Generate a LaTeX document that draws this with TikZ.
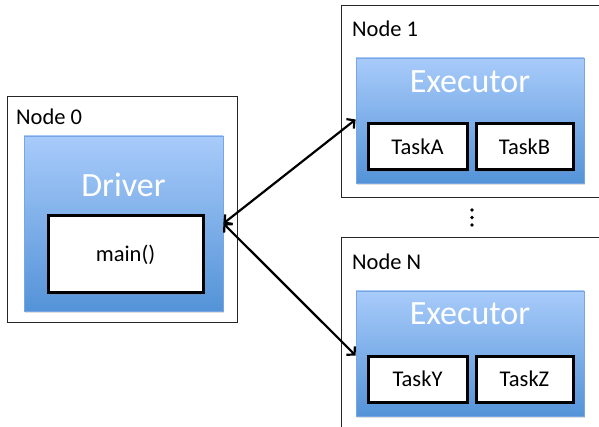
\documentclass[tikz,border=0pt]{standalone}
\usepackage{fontspec}
\setmainfont{Carlito}
\usetikzlibrary{arrows.meta,shadows}
\definecolor{blueTop}{RGB}{168,203,250}
\definecolor{blueBot}{RGB}{84,147,216}
\definecolor{blueEdge}{RGB}{120,166,226}
\tikzset{
  machine/.style={draw=black!85, line width=1pt, fill=white, inner sep=0pt, anchor=north west},
  proc/.style={draw=blueEdge, line width=0.8pt, top color=blueTop, bottom color=blueBot,
    inner sep=0pt, drop shadow={shadow xshift=0.6pt, shadow yshift=-2pt, opacity=0.25}},
  task/.style={draw=black, line width=3pt, fill=white, inner sep=0pt,
    font=\fontsize{22.5}{26}\selectfont,
    drop shadow={shadow xshift=0.8pt, shadow yshift=-1.6pt, opacity=0.3}},
  caption/.style={font=\fontsize{22.5}{26}\selectfont, anchor=west, inner sep=0pt},
  title/.style={font=\fontsize{34}{40}\selectfont, text=white, inner sep=0pt},
  link/.style={line width=2.2pt, {Straight Barb[length=5.5pt,width=12pt]}-{Straight Barb[length=5.5pt,width=12pt]}},
  ellipsisdot/.style={circle, fill=black, inner sep=0pt, minimum size=3.8pt}
}
\begin{document}
\begin{tikzpicture}[x=1pt,y=-1pt]
  \useasboundingbox (0,0) rectangle (599,427);
  \clip (0,0) rectangle (599,427);
  \fill[white] (0,0) rectangle (599,427);

  % machines
  \node[machine, minimum width=230pt, minimum height=226pt] (m0) at (7,96) {};
  \node[machine, minimum width=290pt, minimum height=192pt] (m1) at (341,5) {};
  \node[machine, minimum width=290pt, minimum height=220pt] (mN) at (341,237) {};
  \node[caption] (l0) at (16,117) {Node 0};
  \node[caption] (l1) at (352,29) {Node 1};
  \node[caption] (lN) at (352,262) {Node N};

  % driver process
  \node[proc, minimum width=199pt, minimum height=175pt] (drv) at (123.5,223.5) {};
  \node[title] (drvT) at (123.5,185) {Driver};
  \node[task, minimum width=155pt, minimum height=77pt] (main) at (125.5,254.5) {main()};

  % executor on node 1
  \node[proc, minimum width=228pt, minimum height=125pt] (ex1) at (470,120.5) {};
  \node[title] (ex1T) at (470,82) {Executor};
  \node[task, minimum width=99pt, minimum height=46pt] (ta) at (417.5,147) {TaskA};
  \node[task, minimum width=97pt, minimum height=46pt] (tb) at (524.5,147) {TaskB};

  % executor on node N
  \node[proc, minimum width=228pt, minimum height=125pt] (exN) at (470,353.5) {};
  \node[title] (exNT) at (470,314) {Executor};
  \node[task, minimum width=99pt, minimum height=46pt] (ty) at (417.5,379) {TaskY};
  \node[task, minimum width=97pt, minimum height=46pt] (tz) at (524.5,379) {TaskZ};

  % vertical ellipsis between nodes
  \node[ellipsisdot] (d1) at (472,210) {};
  \node[ellipsisdot] (d2) at (472,217.5) {};
  \node[ellipsisdot] (d3) at (472,225) {};

  % driver <-> executors
  \draw[link] (drv.east) -- ([yshift=1pt]ex1.west);
  \draw[link] (drv.east) -- ([yshift=-2pt]exN.west);
\end{tikzpicture}
\end{document}
